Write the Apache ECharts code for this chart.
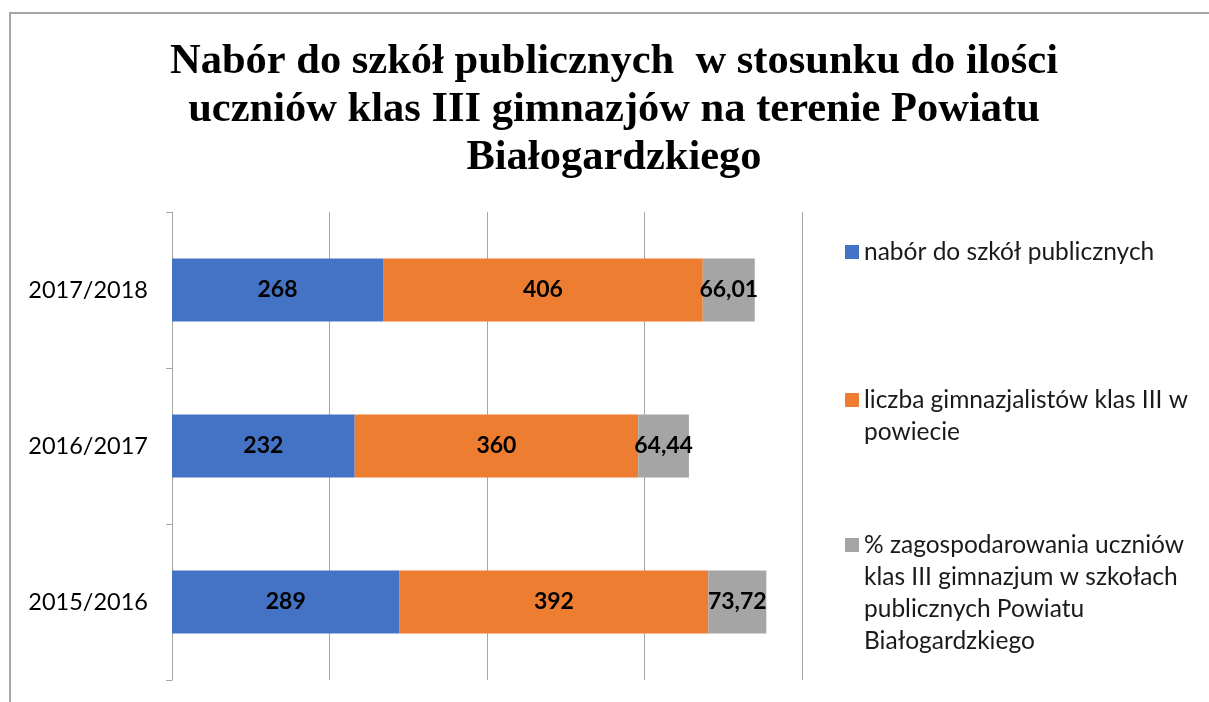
<!DOCTYPE html>
<html lang="pl">
<head>
    <meta charset="utf-8">
    <script src="https://cdn.jsdelivr.net/npm/echarts@6/dist/echarts.min.js"></script>
    <style>
        html, body {
            margin: 0px;
            padding: 0px;
            width: 100%;
            height: 100%;
            overflow: hidden;
            background-color: #fff;
        }

        #frame {
            position: absolute;
            left: 9px;
            top: 12px;
            width: 1300px;
            height: 800px;
            border-top: 2px solid #a6a6a6;
            border-left: 2px solid #a6a6a6;
        }

        #chart {
            position: absolute;
            left: 10px;
            top: 0px;
            width: 1208px;
            height: 702px;
        }
    </style>
    <title>Nabór do szkół publicznych</title>
</head>
<body>
    <div id="frame"></div>
    <div id="chart"></div>
    <script type="text/javascript">
        // dane (od dołu do góry)
        var years = ['2015/2016', '2016/2017', '2017/2018'];
        var nabor = [289, 232, 268];
        var gimnazjalisci = [392, 360, 406];
        var procent = [73.72, 64.44, 66.01];

        var seriesNames = [
            'nabór do szkół publicznych',
            'liczba gimnazjalistów klas III w powiecie',
            '% zagospodarowania uczniów klas III gimnazjum w szkołach publicznych Powiatu Białogardzkiego'
        ];
        // podział nazw na linie jak w legendzie oryginału
        var legendLines = [
            ['nabór do szkół publicznych'],
            ['liczba gimnazjalistów klas III w', 'powiecie'],
            ['% zagospodarowania uczniów', 'klas III gimnazjum w szkołach', 'publicznych Powiatu', 'Białogardzkiego']
        ];
        var colors = ['#4472c4', '#ed7d31', '#a5a5a5'];

        var myChart = echarts.init(document.getElementById('chart'));

        var font = 'Lato, "Open Sans", sans-serif';
        var lineH = 32;
        var legendTops = [236, 352, 433];

        function makeLegend(i) {
            return {
                orient: 'vertical',
                left: 835,
                top: legendTops[i],
                padding: 0,
                itemWidth: 14,
                itemHeight: 14,
                itemGap: 0,
                selectedMode: false,
                icon: 'rect',
                data: [seriesNames[i]],
                formatter: function () {
                    // puste linie z przodu, żeby ikona stała przy pierwszej linii
                    var pad = [];
                    for (var k = 1; k < legendLines[i].length; k++) pad.push('');
                    return pad.concat(legendLines[i]).join('\n');
                },
                textStyle: {
                    fontFamily: font,
                    fontSize: 24.5,
                    lineHeight: lineH,
                    color: '#1a1a1a'
                }
            };
        }

        function makeSeries(i, values) {
            return {
                name: seriesNames[i],
                type: 'bar',
                stack: 'total',
                barWidth: 63,
                itemStyle: { color: colors[i] },
                label: {
                    show: true,
                    position: 'inside',
                    fontFamily: font,
                    fontSize: 23,
                    fontWeight: 'bold',
                    color: '#000',
                    formatter: function (p) {
                        return String(p.value).replace('.', ',');
                    }
                },
                emphasis: { disabled: true },
                data: values
            };
        }

        var option = {
            animation: false,
            title: {
                text: 'Nabór do szkół publicznych  w stosunku do ilości\nuczniów klas III gimnazjów na terenie Powiatu\nBiałogardzkiego',
                left: 'center',
                top: 38,
                padding: 0,
                textStyle: {
                    fontFamily: '"Liberation Serif", "Times New Roman", serif',
                    fontSize: 42.5,
                    fontWeight: 'bold',
                    lineHeight: 48,
                    color: '#000'
                }
            },
            legend: [makeLegend(0), makeLegend(1), makeLegend(2)],
            grid: {
                left: 162,
                top: 212,
                width: 630,
                height: 468,
                containLabel: false
            },
            xAxis: {
                type: 'value',
                min: 0,
                max: 800,
                interval: 200,
                axisLine: { show: false },
                axisTick: { show: false },
                axisLabel: { show: false },
                splitLine: {
                    show: true,
                    lineStyle: { color: '#a6a6a6', width: 1 }
                }
            },
            yAxis: {
                type: 'category',
                data: years,
                axisLine: {
                    show: true,
                    lineStyle: { color: '#a6a6a6', width: 1 }
                },
                axisTick: {
                    show: true,
                    length: 6,
                    lineStyle: { color: '#a6a6a6' }
                },
                axisLabel: {
                    margin: 24,
                    fontFamily: font,
                    fontSize: 23.5,
                    color: '#000'
                }
            },
            series: [
                makeSeries(0, nabor),
                makeSeries(1, gimnazjalisci),
                makeSeries(2, procent)
            ]
        };

        myChart.setOption(option);
    </script>
</body>
</html>
